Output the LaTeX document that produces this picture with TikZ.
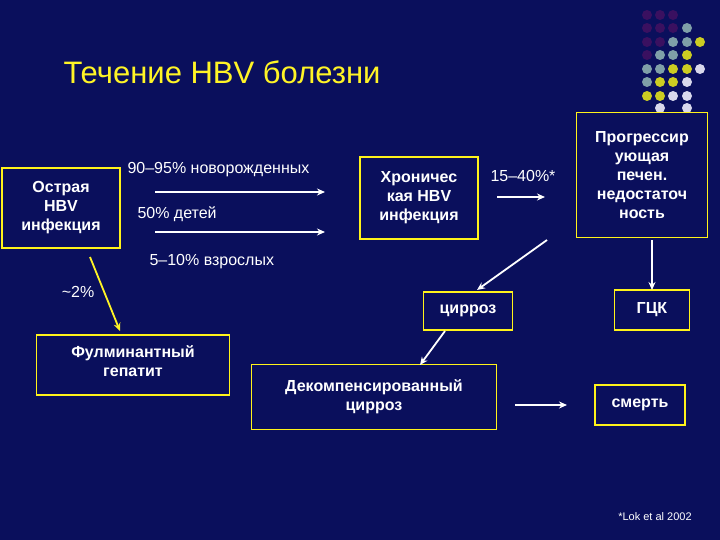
\documentclass[tikz,border=0pt]{standalone}
\usepackage{fontspec}
\setmainfont{Liberation Sans}
\usetikzlibrary{arrows.meta}
\begin{document}
\begin{tikzpicture}[x=1pt,y=-1pt,
  bx/.style={draw=yellow!90!white,line width=1.8pt,fill=bgc,text=white,font=\bfseries\fontsize{16}{19}\selectfont,align=center,inner sep=2pt},
  lbl/.style={text=white,font=\fontsize{16}{19}\selectfont},
  ar/.style={white,line width=1.8pt,-{Stealth[length=8pt,width=7pt]}},
  dt/.style={circle,inner sep=0pt,minimum size=10pt}]
\definecolor{bgc}{HTML}{0A0F5C}
\definecolor{pur}{HTML}{3A1060}
\definecolor{gry}{HTML}{7F9FA8}
\definecolor{yel}{HTML}{CCCC22}
\definecolor{wht}{HTML}{D8D8EC}
\fill[bgc] (0,0) rectangle (720,540);
\useasboundingbox (0,0) rectangle (720,540);
% dots
\foreach \c/\x/\y in {pur/647/15,pur/660/15,pur/673/15,
 pur/647/28,pur/660/28,pur/673/28,gry/687/28,
 pur/647/42,pur/660/42,gry/673/42,gry/687/42,yel/700/42,
 pur/647/55,gry/660/55,gry/673/55,yel/687/55,
 gry/647/69,gry/660/69,yel/673/69,yel/687/69,wht/700/69,
 gry/647/82,yel/660/82,yel/673/82,wht/687/82,
 yel/647/96,yel/660/96,wht/673/96,wht/687/96,
 wht/660/108,wht/687/108}
 \node[dt,fill=\c] at (\x,\y) {};
\node[anchor=west,text=yellow!85!white,font=\fontsize{31}{36}\selectfont] (title) at (60,72) {Течение HBV болезни};
\node[bx,minimum width=118pt,minimum height=80pt] (acute) at (61,208) {Острая\\HBV\\инфекция};
\node[bx,minimum width=118pt,minimum height=82pt] (chron) at (419,198) {Хроничес\\кая HBV\\инфекция};
\node[bx,minimum width=131pt,minimum height=125pt] (prog) at (642,175) {Прогрессир\\ующая\\печен.\\недостаточ\\ность};
\node[bx,minimum width=89pt,minimum height=38pt] (cirr) at (468,311) {\raisebox{-3pt}{цирроз}};
\node[bx,minimum width=75pt,minimum height=40pt] (hcc) at (652,310) {ГЦК};
\node[bx,minimum width=193pt,minimum height=60pt] (fulm) at (133,365) {};
\node[text=white,font=\bfseries\fontsize{16}{19}\selectfont,align=center] (fulmt) at (133,361) {Фулминантный\\гепатит};
\node[bx,minimum width=245pt,minimum height=65pt] (decomp) at (374,397) {Декомпенсированный\\цирроз};
\node[bx,minimum width=90pt,minimum height=40pt] (death) at (640,405) {смерть};
\node[lbl,anchor=west] (l1) at (124,170) {90–95\% новорожденных};
\node[lbl,anchor=west] (l2) at (134,214) {50\% детей};
\node[lbl,anchor=west] (l3) at (146,262) {5–10\% взрослых};
\node[lbl] (l4) at (78,292) {\textasciitilde2\%};
\node[lbl] (l5) at (523,176) {15–40\%*};
\node[text=white,font=\fontsize{11}{13}\selectfont] (foot) at (655,517) {*Lok et al 2002};
\coordinate (a1s) at (155,192); \coordinate (a1e) at (325,192);
\coordinate (a2s) at (155,232); \coordinate (a2e) at (325,232);
\coordinate (c1) at (497,197); \coordinate (c2) at (545,197);
\coordinate (p1) at (547,240); \coordinate (p2) at (477,290);
\coordinate (h1) at (652,240); \coordinate (h2) at (652,290);
\coordinate (r1) at (445,331); \coordinate (r2) at (420,365);
\coordinate (d1) at (515,405); \coordinate (d2) at (567,405);
\coordinate (y1) at (90,257); \coordinate (y2) at (120,331);
\draw[ar] (a1s) -- (a1e);
\draw[ar] (a2s) -- (a2e);
\draw[ar] (c1) -- (c2);
\draw[ar] (p1) -- (p2);
\draw[ar] (h1) -- (h2);
\draw[ar] (r1) -- (r2);
\draw[ar] (d1) -- (d2);
\draw[ar,yellow!85!white] (y1) -- (y2);
\end{tikzpicture}
\end{document}
